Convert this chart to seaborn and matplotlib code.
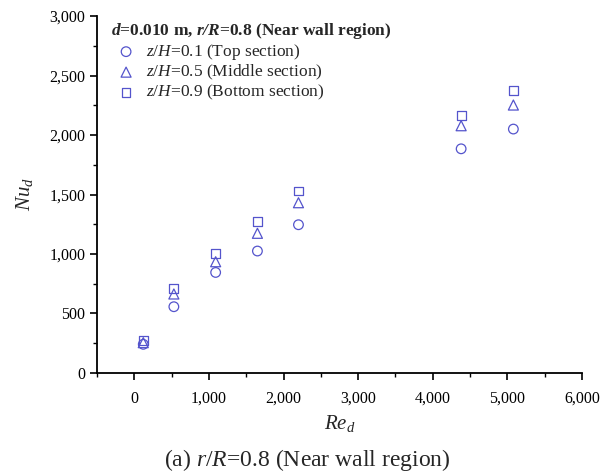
import matplotlib
matplotlib.use("Agg")
import matplotlib.pyplot as plt
import seaborn as sns
import pandas as pd
from matplotlib.ticker import MultipleLocator, FuncFormatter

re_d = [120, 530, 1090, 1650, 2200, 4380, 5080]
nu_top = [241, 557, 845, 1025, 1246, 1884, 2050]
nu_mid = [255, 664, 935, 1174, 1431, 2078, 2252]
nu_bot = [271, 709, 1003, 1275, 1529, 2162, 2372]
labels = ["$z/H$=0.1 (Top section)", "$z/H$=0.5 (Middle section)", "$z/H$=0.9 (Bottom section)"]

sns.set_style("ticks")
plt.rcParams['font.family'] = ['Liberation Serif', 'DejaVu Serif']
plt.rcParams['mathtext.fontset'] = 'custom'
plt.rcParams['mathtext.rm'] = 'Liberation Serif'
plt.rcParams['mathtext.it'] = 'Liberation Serif:italic'
plt.rcParams['mathtext.bf'] = 'Liberation Serif:bold'
plt.rcParams['mathtext.bfit'] = 'Liberation Serif:bold:italic'

fig = plt.figure(figsize=(6.04, 4.74), dpi=100)
ax = fig.add_axes([0.1606, 0.2131, 0.8030, 0.7531])

color = "#5454cc"
markers = ["o", "^", "s"]
sizes = [48, 52, 40]
for vals, m, lab, s in zip([nu_top, nu_mid, nu_bot], markers, labels, sizes):
    df = pd.DataFrame({"x": re_d, "y": vals})
    sns.scatterplot(data=df, x="x", y="y", marker=m, s=s, facecolor="none",
                    edgecolor=color, linewidth=0.9, label=lab, ax=ax)

ax.set_xlim(-500, 6000)
ax.set_ylim(0, 3000)
ax.xaxis.set_major_locator(MultipleLocator(1000))
ax.xaxis.set_minor_locator(MultipleLocator(500))
ax.yaxis.set_major_locator(MultipleLocator(500))
ax.yaxis.set_minor_locator(MultipleLocator(250))
fmt = FuncFormatter(lambda v, p: f"{int(v):,}")
ax.xaxis.set_major_formatter(fmt)
ax.yaxis.set_major_formatter(fmt)
ax.tick_params(which='major', direction='out', length=5, width=1.2, labelsize=11.5, color='black', labelcolor='black')
ax.tick_params(which='minor', direction='out', length=3, width=1.0, color='black')
ax.tick_params(axis='x', pad=8)
for side in ['top', 'right']:
    ax.spines[side].set_visible(False)
for side in ['left', 'bottom']:
    ax.spines[side].set_linewidth(1.3)
    ax.spines[side].set_color('black')

ax.set_xlabel("$Re_d$", fontsize=15, labelpad=4)
ax.set_ylabel("$Nu_d$", fontsize=15, labelpad=10)

leg = ax.legend(title=r"$\mathbfit{d}$=0.010 m, $\mathbfit{r/R}$=0.8 (Near wall region)",
                loc='upper left', bbox_to_anchor=(0.0, 1.024), frameon=False,
                fontsize=12.5, title_fontproperties={'weight': 'bold', 'size': 12.5},
                alignment='left', handlelength=1.75, handletextpad=0.25,
                labelspacing=0.05, borderpad=0.3)

fig.text(0.508, 1 - 460 / 474, "(a) $r/R$=0.8 (Near wall region)", ha='center', va='center', fontsize=17)

fig.savefig("out.png", dpi=100)
